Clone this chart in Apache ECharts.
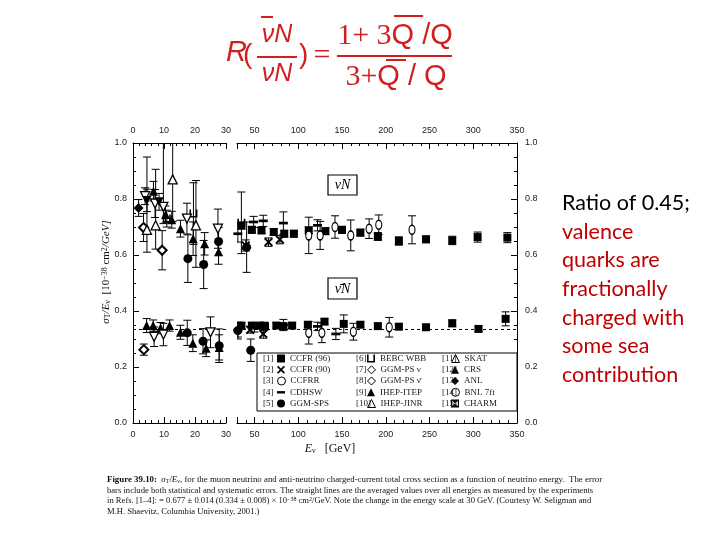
<!DOCTYPE html>
<html><head><meta charset="utf-8">
<script src="https://cdn.jsdelivr.net/npm/echarts@6/dist/echarts.min.js"></script>
<style>html,body{margin:0;padding:0;background:#fff}#c{width:720px;height:540px}</style>
</head><body><div id="c"></div><script>
// ---------- DATA: [E (GeV), sigma/E, err]  or [E, sigma/E, errLow, errHigh] ----------
const ccfr96Nu = [[35,0.705,0.012],[47,0.690,0.012],[58,0.688,0.012],[72,0.682,0.012],[84,0.676,0.012],[95,0.676,0.012],[112,0.688,0.012],[131,0.685,0.012],[150,0.690,0.012],[171,0.680,0.012],[191,0.666,0.014],[215,0.650,0.015],[246,0.656,0.012],[276,0.652,0.015],[305,0.664,0.018],[339,0.662,0.018]];
const ccfr96Nubar = [[35,0.348,0.01],[47,0.348,0.01],[56,0.348,0.01],[62,0.346,0.01],[75,0.348,0.01],[83,0.346,0.01],[93,0.348,0.01],[111,0.351,0.01],[130,0.362,0.01],[152,0.354,0.032],[171,0.351,0.01],[191,0.346,0.01],[215,0.344,0.01],[246,0.342,0.008],[276,0.356,0.012],[306,0.336,0.01],[337,0.372,0.025]];
const ccfr90Nu = [[40,0.634,0.02],[66,0.646,0.015],[79,0.655,0.015]];
const ccfr90Nubar = [[45,0.333,0.012],[60,0.318,0.015]];
const ccfrrNu = [[112,0.670,0.065],[125,0.670,0.05],[142,0.700,0.04],[160,0.670,0.055],[181,0.694,0.035],[192,0.708,0.035],[230,0.690,0.05]];
const ccfrrNubar = [[112,0.322,0.04],[127,0.322,0.035],[163,0.326,0.03],[204,0.342,0.035]];
const cdhswNu = [[31,0.676,0.03],[49,0.718,0.02],[60,0.722,0.02],[83,0.714,0.04],[122,0.706,0.02]];
const cdhswNubar = [[31,0.332,0.025],[50,0.340,0.015],[61,0.345,0.015],[83,0.350,0.02],[122,0.345,0.015],[143,0.318,0.02]];
const ggmspsNu = [[17.7,0.587,0.085],[22.8,0.566,0.086],[27.6,0.648,0.05],[41,0.628,0.09]];
const ggmspsNubar = [[17.5,0.322,0.045],[22.6,0.292,0.045],[27.8,0.276,0.06],[31,0.330,0.03],[45.7,0.260,0.04]];
const bebcNu = [[10.9,0.730,0.03],[19.5,0.748,0.11],[35,0.715,0.11]];
const bebcNubar = [];
const ggmpsNuNu = [[3.4,0.698,0.05],[9.4,0.617,0.07]];
const ggmpsNubarNubar = [[3.5,0.262,0.02]];
const ihepItepNu = [[6.6,0.828,0.035],[10.5,0.745,0.03],[12.5,0.726,0.03],[15.3,0.694,0.03],[19.4,0.658,0.06],[23.1,0.640,0.04],[27.6,0.612,0.045]];
const ihepItepNubar = [[4.4,0.348,0.025],[6.5,0.348,0.02],[8.9,0.339,0.02],[11.8,0.348,0.02],[15.3,0.324,0.025],[19.3,0.285,0.03],[23.6,0.267,0.03],[27.8,0.270,0.045]];
const ihepJinrNu = [[3.9,0.810,0.03],[7.1,0.784,0.05],[9.8,0.772,0.06,0.25],[17.4,0.730,0.055],[27.4,0.694,0.07]];
const ihepJinrNubar = [[6.8,0.308,0.035],[9.8,0.316,0.04],[25.0,0.324,0.055]];
const skatNu = [[4.5,0.690,0.08,0.26],[7.3,0.706,0.085,0.2],[12.8,0.870,0.15,0.2],[20.3,0.706,0.15,0.16]];
const crsNu = [[4.5,0.795,0.04],[8.4,0.790,0.03]];
const anlNu = [[1.8,0.768,0.03]];
const bnlNu = [];
const charmNu = [];
const avgNubar = 0.334;

// ---------- experiment styles ----------
const OPEN = {color:'#fff', borderColor:'#000', borderWidth:1.3};
const FILL = {color:'#000'};
const experiments = [
 {n:1, name:'CCFR (96)', data:[ccfr96Nu, ccfr96Nubar], symbol:'rect', size:8, st:FILL},
 {n:2, name:'CCFR (90)', data:[ccfr90Nu, ccfr90Nubar], symbol:'path://M0,1.5L1.5,0L5,3.5L8.5,0L10,1.5L6.5,5L10,8.5L8.5,10L5,6.5L1.5,10L0,8.5L3.5,5Z', size:9, st:FILL},
 {n:3, name:'CCFRR', data:[ccfrrNu, ccfrrNubar], symbol:'circle', size:[6,9], st:OPEN},
 {n:4, name:'CDHSW', data:[cdhswNu, cdhswNubar], symbol:'path://M0,0L10,0L10,3L0,3Z', size:9, st:FILL},
 {n:5, name:'GGM-SPS', data:[ggmspsNu, ggmspsNubar], symbol:'circle', size:9, st:FILL},
 {n:6, name:'BEBC WBB', data:[bebcNu, bebcNubar], symbol:'path://M0,0L2,0L2,8L8,8L8,0L10,0L10,10L0,10Z', size:8, st:FILL},
 {n:7, name:'GGM-PS ν', data:[ggmpsNuNu], symbol:'diamond', size:9, st:{color:'#fff',borderColor:'#000',borderWidth:2}},
 {n:8, name:'GGM-PS ν̄', data:[ggmpsNubarNubar], symbol:'diamond', size:9, st:{color:'#fff',borderColor:'#000',borderWidth:2}},
 {n:9, name:'IHEP-ITEP', data:[ihepItepNu, ihepItepNubar], symbol:'triangle', size:9, st:FILL},
 {n:10, name:'IHEP-JINR', data:[ihepJinrNu, ihepJinrNubar], symbol:'triangle', rot:180, size:9, st:OPEN},
 {n:11, name:'SKAT', data:[skatNu], symbol:'triangle', size:9, st:OPEN},
 {n:12, name:'CRS', data:[crsNu], symbol:'triangle', rot:180, size:9, st:FILL},
 {n:13, name:'ANL', data:[anlNu], symbol:'diamond', size:10, st:FILL},
 {n:14, name:'BNL 7ft', data:[bnlNu], symbol:'circle', size:7, st:{color:'#fff',borderColor:'#000',borderWidth:2}},
 {n:15, name:'CHARM', data:[charmNu], symbol:'path://M0,0L10,0L10,10L0,10Z M1.5,1.5L1.5,8.5L5,5Z M8.5,1.5L5,5L8.5,8.5Z', size:8, st:FILL}
];

function errRender(params, api){
  const x=api.value(0), y=api.value(1), lo=api.value(2), hi=api.value(3);
  const t=api.coord([x,y+hi]), b=api.coord([x,y-lo]); const cw=4;
  const s={stroke:'#000', lineWidth:1};
  return {type:'group', children:[
    {type:'line', shape:{x1:t[0],y1:t[1],x2:b[0],y2:b[1]}, style:s},
    {type:'line', shape:{x1:t[0]-cw,y1:t[1],x2:t[0]+cw,y2:t[1]}, style:s},
    {type:'line', shape:{x1:b[0]-cw,y1:b[1],x2:b[0]+cw,y2:b[1]}, style:s}
  ]};
}

const series = [];
experiments.forEach(ex=>{
  const all = [].concat(...ex.data);
  const parts = [[all.filter(d=>d[0]<30),0,0],[all.filter(d=>d[0]>=30),2,1]];
  parts.forEach(([arr,xi,yi],k)=>{
    if(!arr.length && k===1) return;
    series.push({type:'custom', name:ex.name+' err', xAxisIndex:xi, yAxisIndex:yi, clip:true, silent:true, z:2,
      encode:{x:0,y:1},
      data: arr.map(d=>[d[0], d[1], d[2], d.length>3?d[3]:d[2]]), renderItem: errRender});
    series.push({type:'scatter', name:ex.name, xAxisIndex:xi, yAxisIndex:yi, z:3, silent:true,
      symbol:ex.symbol, symbolSize:ex.size, symbolRotate:ex.rot||0, symbolKeepAspect:true,
      itemStyle:Object.assign({opacity:1}, ex.st), emphasis:{disabled:true},
      data: arr.map(d=>[d[0], d[1]])});
  });
});
// averaged value lines (anti-neutrino)
series.push({type:'line', xAxisIndex:0, yAxisIndex:0, data:[[0,avgNubar],[30,avgNubar]], symbol:'none', silent:true, z:1, lineStyle:{color:'#000', width:1, type:[3,3]}});
series.push({type:'line', xAxisIndex:2, yAxisIndex:1, data:[[30,avgNubar],[350,avgNubar]], symbol:'none', silent:true, z:1, lineStyle:{color:'#000', width:1, type:[3,3]}});

const lab = {color:'#222', fontSize:9, fontFamily:'Liberation Sans'};
function xAx(grid,pos,min,max,extra){
  return Object.assign({gridIndex:grid, type:'value', position:pos, min:min, max:max,
    axisLine:{show:true, onZero:false, lineStyle:{color:'#000', width:1}},
    axisTick:{show:true, inside:true, length:6, lineStyle:{color:'#000'}},
    minorTick:{show:true, splitNumber:5, length:3, lineStyle:{color:'#000'}},
    splitLine:{show:false}, minorSplitLine:{show:false},
    axisLabel:Object.assign({margin:pos==='top'?8:7}, lab)}, extra);
}
function yAx(grid,pos){
  return {gridIndex:grid, type:'value', position:pos, min:0, max:1, interval:0.2,
    axisLine:{show:true, onZero:false, lineStyle:{color:'#000', width:1}},
    axisTick:{show:true, inside:true, length:6, lineStyle:{color:'#000'}},
    minorTick:{show:true, splitNumber:4, length:3, lineStyle:{color:'#000'}},
    splitLine:{show:false},
    axisLabel:Object.assign({margin:pos==='left'?6:8, formatter:v=>v.toFixed(1)}, lab)};
}
const rightFmt = v => v===30 ? '' : String(v);

const legendCols = [277, 367, 451], bracketCols = [263, 356, 442];
const legendRows = [358.5, 369.8, 381, 392.3, 403.5];
const legends = experiments.map((ex,i)=>({
  data:[ex.name], left:legendCols[Math.floor(i/5)], top:legendRows[i%5]-4.5,
  itemWidth:8, itemHeight:8, padding:0, itemGap:0, selectedMode:false, z:10,
  itemStyle:{borderWidth:1},
  textStyle:{fontFamily:'Liberation Serif', fontSize:9, color:'#222'}
}));

const red = '#d11f1f', red2 = '#c00000';
const g = [];
// legend frame + bracket numbers
g.push({type:'rect', z:5, shape:{x:257, y:353, width:260, height:58}, style:{fill:'#fff', stroke:'#000', lineWidth:1}});
experiments.forEach((ex,i)=>g.push({type:'text', z:11, x:bracketCols[Math.floor(i/5)], y:legendRows[i%5], style:{text:'['+ex.n+']', font:'9px Liberation Serif', fill:'#222', verticalAlign:'middle'}}));
// νN boxes
g.push({type:'rect', z:5, shape:{x:328, y:175, width:29, height:20}, style:{fill:'#fff', stroke:'#000', lineWidth:1.2}});
g.push({type:'text', z:6, x:342.5, y:185, style:{text:'νN', font:'italic 14px Liberation Serif', fill:'#000', align:'center', verticalAlign:'middle'}});
g.push({type:'rect', z:5, shape:{x:328, y:278, width:29, height:21}, style:{fill:'#fff', stroke:'#000', lineWidth:1.2}});
g.push({type:'text', z:6, x:342.5, y:289, style:{text:'ν̄N', font:'italic 14px Liberation Serif', fill:'#000', align:'center', verticalAlign:'middle'}});
// axis titles
g.push({type:'text', x:106, y:272, rotation:Math.PI/2, style:{
  text:'{i|σ}{sb|T}{i|/E}{sb|ν}{n|  [10}{sp|−38}{n| cm}{sp|2}{i|/GeV]}', align:'center', verticalAlign:'middle',
  rich:{i:{font:'italic 11px Liberation Serif', fill:'#111'}, n:{font:'11px Liberation Serif', fill:'#111'},
        sb:{font:'8px Liberation Serif', fill:'#111', verticalAlign:'bottom'}, sp:{font:'8px Liberation Serif', fill:'#111', verticalAlign:'top'}}}});
g.push({type:'text', x:330, y:449, style:{
  text:'{i|E}{sb|ν}{n|   [GeV]}', align:'center', verticalAlign:'middle',
  rich:{i:{font:'italic 12px Liberation Serif', fill:'#111'}, n:{font:'12px Liberation Serif', fill:'#111'},
        sb:{font:'8px Liberation Serif', fill:'#111', verticalAlign:'bottom'}}}});
// caption
const capRich = {b:{font:'bold 8.85px Liberation Serif', fill:'#111'}, n:{font:'8.85px Liberation Serif', fill:'#111'},
  m:{font:'8.6px Liberation Serif', fill:'#111'},
  i:{font:'italic 8.85px Liberation Serif', fill:'#111'}, sb:{font:'6px Liberation Serif', fill:'#111', verticalAlign:'bottom'},
  sp:{font:'6px Liberation Serif', fill:'#111', verticalAlign:'top'}};
const capLines = [
 '{b|Figure 39.10:}{n|  }{i|σ}{sb|T}{n|/}{i|E}{sb|ν}{n|, for the muon neutrino and anti-neutrino charged-current total cross section as a function of neutrino energy.  The error}',
 '{m|bars include both statistical and systematic errors. The straight lines are the averaged values over all energies as measured by the experiments}',
 '{m|in Refs. [1–4]: = 0.677 ± 0.014 (0.334 ± 0.008) × 10}{sp|−38}{m| cm}{sp|2}{m|/GeV. Note the change in the energy scale at 30 GeV. (Courtesy W. Seligman and}',
 '{m|M.H. Shaevitz, Columbia University, 2001.)}'
];
const capY = [480, 490.5, 501, 511.5];
capLines.forEach((t,i)=>g.push({type:'text', x:107, y:capY[i], style:{text:t, rich:capRich, verticalAlign:'middle'}}));
// formula
const F = (x,y,t,font,al)=>g.push({type:'text', x:x, y:y, style:{text:t, font:font, fill:red, align:al||'left', verticalAlign:'middle'}});
const L = (x1,y1,x2,y2,w)=>g.push({type:'line', shape:{x1:x1,y1:y1,x2:x2,y2:y2}, style:{stroke:red, lineWidth:w||2}});
F(226,53,'R','italic 29px Liberation Sans');
F(243,55,'(','28px Liberation Sans');
F(277,35,'νN','italic 25px Liberation Sans','center');
L(261,17,273,17,2);
L(257,57,297,57,2);
F(277,74,'νN','italic 25px Liberation Sans','center');
F(299,55,')','28px Liberation Sans');
F(322,56,'=','30px Liberation Serif','center');
g.push({type:'text', x:395, y:36, style:{text:'{s|1+ 3}{q|Q /Q}', align:'center', verticalAlign:'middle',
  rich:{s:{font:'30px Liberation Serif', fill:red}, q:{font:'29px Liberation Sans', fill:red}}}});
L(394,16,423,16,2);
L(337,56,452,56,2);
g.push({type:'text', x:396, y:77, style:{text:'{s|3+}{q|Q / Q}', align:'center', verticalAlign:'middle',
  rich:{s:{font:'30px Liberation Serif', fill:red}, q:{font:'29px Liberation Sans', fill:red}}}});
L(386,60,406,60,2);
// right text
const sideLines = ['Ratio of 0.45;','valence','quarks are','fractionally','charged with','some sea','contribution'];
sideLines.forEach((t,i)=>g.push({type:'text', x:562, y:203+i*28.7, style:{text:t, font:'21.5px Lato', fill:i===0?'#000':red2, verticalAlign:'middle'}}));

const option = {
  animation:false, backgroundColor:'#fff',
  grid:[{left:133, top:143, width:93, height:280},{left:237, top:143, width:280, height:280}],
  xAxis:[
    xAx(0,'bottom',0,30,{interval:10}),
    xAx(0,'top',0,30,{interval:10}),
    xAx(1,'bottom',30,350,{splitNumber:6, axisLabel:Object.assign({margin:7, formatter:rightFmt}, lab)}),
    xAx(1,'top',30,350,{splitNumber:6, axisLabel:Object.assign({margin:8, formatter:rightFmt}, lab)})
  ],
  yAxis:[yAx(0,'left'), yAx(1,'right')],
  legend: legends,
  series: series,
  graphic: g
};
const chart = echarts.init(document.getElementById('c'), null, {renderer:'canvas'});
chart.setOption(option);
</script></body></html>
